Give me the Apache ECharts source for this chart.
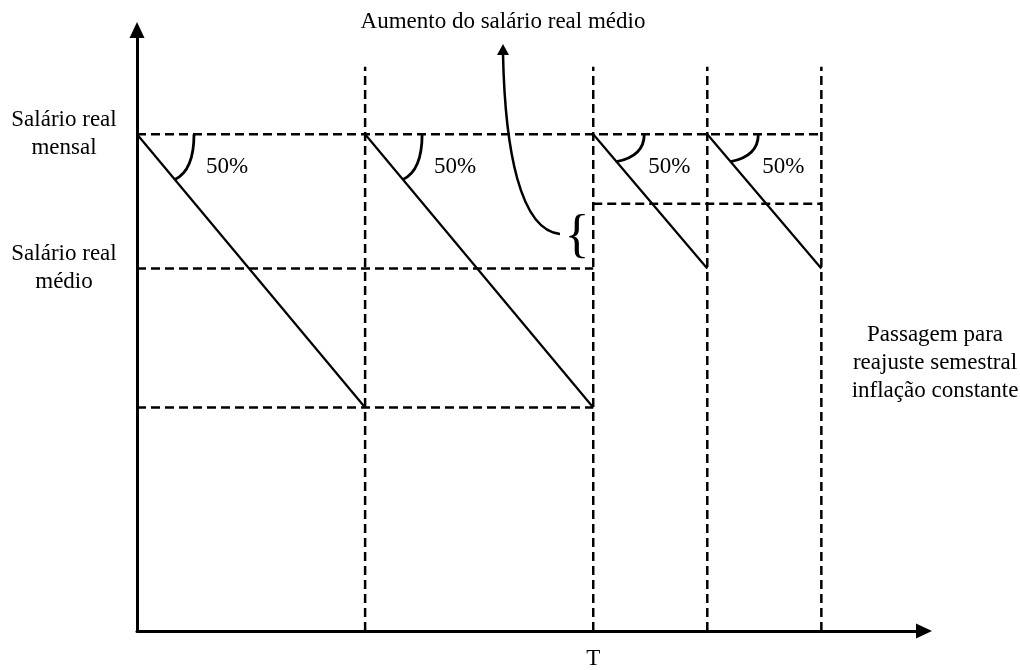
<!DOCTYPE html>
<html>
<head>
<meta charset="utf-8">
<script src="https://cdn.jsdelivr.net/npm/echarts@6/dist/echarts.min.js"></script>
<style>
  html, body { margin: 0; padding: 0; background: #fff; }
  #chart { width: 1020px; height: 670px; }
</style>
</head>
<body>
<div id="chart"></div>
<script>
// time axis: readjustment points
const periodStarts = [0, 2, 4, 5];
const periodEnds = [2, 4, 5, 6];
const peakWage = 100;
const periodTroughs = [45, 45, 73, 73];
const avgWageOld = 73;
const avgWageNew = 86;
const troughOld = 45;
const guideTop = 113.6;
const axisMaxT = 6.9;
const axisMaxY = 121;
const markT = 4;
const yLabels = {100: 'Salário real\nmensal', 73: 'Salário real\nmédio'};

const FONT = 'Liberation Serif';

let chart = echarts.init(document.getElementById('chart'));

let dashed = {color: '#000', width: 2.5, type: [9, 5]};
let solid = {color: '#000', width: 2.2};

function seg(a, b, style) {
    return {
        type: 'line',
        data: [a, b],
        symbol: 'none',
        silent: true,
        lineStyle: style
    };
}

let series = [];
// vertical guide lines at each readjustment
periodEnds.forEach(function (t) {
    series.push(seg([t, 0], [t, guideTop], dashed));
});
// horizontal guides
series.push(seg([0, peakWage], [periodEnds[periodEnds.length - 1], peakWage], dashed));
series.push(seg([0, avgWageOld], [markT, avgWageOld], dashed));
series.push(seg([markT, avgWageNew], [periodEnds[periodEnds.length - 1], avgWageNew], dashed));
series.push(seg([0, troughOld], [markT, troughOld], dashed));
// wage erosion diagonals
for (let i = 0; i < periodStarts.length; i++) {
    series.push(seg([periodStarts[i], peakWage], [periodEnds[i], periodTroughs[i]], solid));
}
// angle arcs + 50% labels
series.push({
    type: 'custom',
    silent: true,
    data: periodStarts.map(function (s, i) {
        return [s, peakWage, periodEnds[i], periodTroughs[i]];
    }),
    renderItem: function (params, api) {
        let v = api.coord([api.value(0), api.value(1)]);
        let e = api.coord([api.value(2), api.value(3)]);
        let dx = e[0] - v[0], dy = e[1] - v[1];
        let len = Math.sqrt(dx * dx + dy * dy);
        let big = len > 250;
        let r = big ? 57 : 51;
        let d = big ? 59 : 36;
        let bx = v[0] + dx / len * d, by = v[1] + dy / len * d;
        let ax = v[0] + r, ay = v[1];
        return {
            type: 'group',
            children: [{
                type: 'bezierCurve',
                shape: {
                    x1: ax, y1: ay, x2: bx, y2: by,
                    cpx1: ax, cpy1: v[1] + (by - v[1]) * 0.8
                },
                style: {stroke: '#000', fill: null, lineWidth: 2.8}
            }, {
                type: 'text',
                x: v[0] + (big ? 90 : 76),
                y: v[1] + 33,
                style: {
                    text: '50%', fill: '#000', font: '23px "' + FONT + '"',
                    align: 'center', verticalAlign: 'middle'
                }
            }]
        };
    }
});

chart.setOption({
    animation: false,
    backgroundColor: '#fff',
    grid: {left: 137, right: 96, top: 30, bottom: 35},
    xAxis: {
        type: 'value',
        min: 0,
        max: axisMaxT,
        interval: 1,
        splitLine: {show: false},
        axisTick: {show: false},
        axisLine: {
            show: true,
            symbol: ['none', 'triangle'],
            symbolSize: [15, 16],
            lineStyle: {color: '#000', width: 3}
        },
        axisLabel: {
            margin: 16,
            color: '#000',
            fontFamily: FONT,
            fontSize: 23,
            formatter: function (v) { return v === markT ? 'T' : ''; }
        }
    },
    yAxis: {
        type: 'value',
        min: 0,
        max: axisMaxY,
        interval: 1,
        splitLine: {show: false},
        axisTick: {show: false},
        axisLine: {
            show: true,
            symbol: ['none', 'triangle'],
            symbolSize: [15, 16],
            lineStyle: {color: '#000', width: 3}
        },
        axisLabel: {
            margin: 73,
            align: 'center',
            color: '#000',
            fontFamily: FONT,
            fontSize: 23,
            lineHeight: 28,
            formatter: function (v) { return yLabels[v] || ''; }
        }
    },
    graphic: [
        {
            type: 'text',
            style: {
                text: 'Aumento do salário real médio', x: 503, y: 22,
                fill: '#000', font: '23px "' + FONT + '"',
                align: 'center', verticalAlign: 'middle'
            }
        },
        {
            type: 'text',
            style: {
                text: 'Passagem para\nreajuste semestral\ninflação constante',
                x: 935, y: 363, lineHeight: 28,
                fill: '#000', font: '23px "' + FONT + '"',
                align: 'center', verticalAlign: 'middle'
            }
        },
        {
            type: 'text',
            style: {
                text: '{', x: 577, y: 237,
                fill: '#000', font: '52px "' + FONT + '"',
                align: 'center', verticalAlign: 'middle'
            }
        },
        {
            type: 'bezierCurve',
            shape: {x1: 560, y1: 234, cpx1: 520, cpy1: 230, cpx2: 505, cpy2: 150, x2: 503, y2: 54},
            style: {stroke: '#000', fill: null, lineWidth: 2.5}
        },
        {
            type: 'polygon',
            shape: {points: [[503, 44], [497, 55], [509, 55]]},
            style: {fill: '#000'}
        }
    ],
    series: series
});
</script>
</body>
</html>
